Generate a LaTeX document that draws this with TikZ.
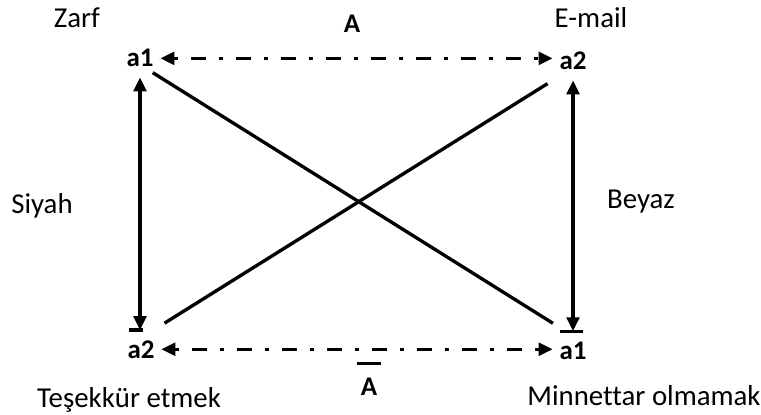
\documentclass[tikz,border=0pt]{standalone}
\usepackage{fontspec}
\setmainfont{Carlito}[Ligatures=NoCommon]
\usetikzlibrary{arrows.meta}

\begin{document}
\begin{tikzpicture}[
    x=0.03cm, y=0.03cm,
    >={Triangle[length=0.42cm, width=0.38cm]},
    word/.style={font=\fontsize{24.6}{29}\selectfont, anchor=base},
    pt/.style={font=\fontsize{23}{27}\selectfont\bfseries, anchor=base, inner xsep=0.2cm, inner ysep=0.3cm},
    link/.style={line width=0.1cm},
    dd/.style={line width=0.1cm, dash pattern=on 0.12cm off 0.39cm on 0.45cm off 0.39cm},
]
\useasboundingbox (0,0) rectangle (761,414);
% ----- corner points
\node[pt] (ta1) at (140,347) {a1};
\node[pt] (ta2) at (573,344) {a2};
\node[pt] (ba2) at (141,56) {a2};
\node[pt] (ba1) at (573,55) {a1};
\node[pt] (abar) at (369,19) {A};
\node[pt] (atop) at (352,381) {A};
% ----- words
\node[word] (zarf) at (77,386) {Zarf};
\node[word] (email) at (591,386) {E-mail};
\node[word] (siyah) at (42,201) {Siyah};
\node[word] (beyaz) at (641,206) {Beyaz};
\node[word] (tesekkur) at (129,7) {Teşekkür etmek};
\node[word] (minnettar) at (644,9) {Minnettar olmamak};
% ----- bars
\draw[link] ([xshift=-0.36cm]ba2.north) -- ([xshift=0.06cm]ba2.north);
\draw[link] ([xshift=-0.39cm]ba1.north) -- ([xshift=0.3cm]ba1.north);
\draw[link] ([shift={(-0.36cm,0.12cm)}]abar.north) -- ([shift={(0.36cm,0.12cm)}]abar.north);
% ----- arrows
\draw[dd, <->] (ta1.east) -- (ta1.east -| ta2.west);
\draw[dd, <->] (ba2.east) -- (ba2.east -| ba1.west);
\draw[link, <->] (ta1.south) -- (ta1.south |- ba2.north);
\draw[link, <->] (ta2.south) -- (ta2.south |- ba1.north);
\draw[link, shorten <=-0.27cm, shorten >=0.45cm] (ta1.south east) -- (ba1.111);
\draw[link, shorten <=0.39cm, shorten >=0.18cm] (ba2.57) -- (ta2.south west);
\end{tikzpicture}
\end{document}
